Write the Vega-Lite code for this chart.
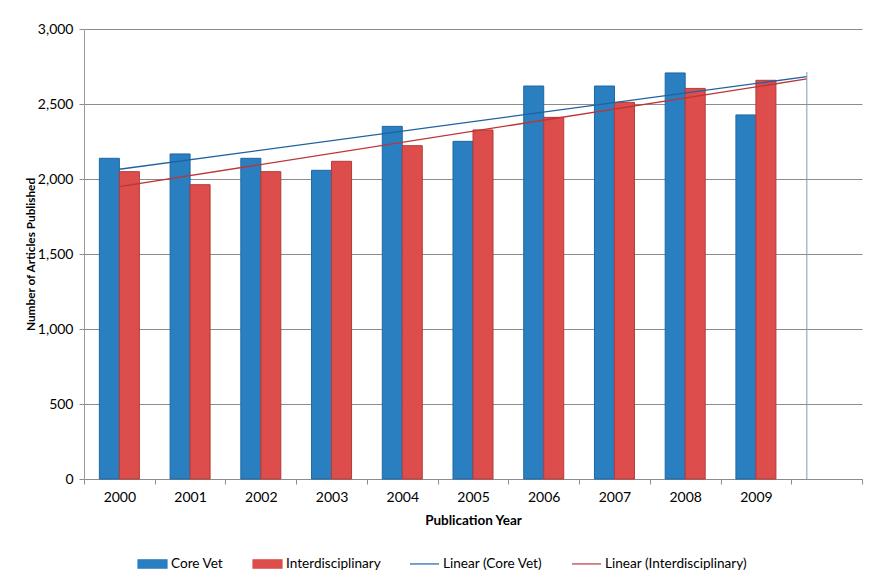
{
  "$schema": "https://vega.github.io/schema/vega-lite/v6.json",
  "autosize": {"type": "none"},
  "padding": {"left": 84, "top": 29, "right": 31, "bottom": 105},
  "width": 778,
  "height": 450,
  "background": "white",
  "config": {
    "font": "Lato",
    "view": {"stroke": null},
    "axis": {"labelFont": "Lato", "labelFontSize": 14, "labelColor": "#000000", "titleFont": "Lato", "titleFontSize": 12, "titleFontWeight": "bold", "titleColor": "#000000"}
  },
  "datasets": {
    "bars": [
      {"year": "2000", "series": "Core Vet", "value": 2138},
      {"year": "2000", "series": "Interdisciplinary", "value": 2049},
      {"year": "2001", "series": "Core Vet", "value": 2167},
      {"year": "2001", "series": "Interdisciplinary", "value": 1962},
      {"year": "2002", "series": "Core Vet", "value": 2138},
      {"year": "2002", "series": "Interdisciplinary", "value": 2049},
      {"year": "2003", "series": "Core Vet", "value": 2058},
      {"year": "2003", "series": "Interdisciplinary", "value": 2118},
      {"year": "2004", "series": "Core Vet", "value": 2351},
      {"year": "2004", "series": "Interdisciplinary", "value": 2222},
      {"year": "2005", "series": "Core Vet", "value": 2251},
      {"year": "2005", "series": "Interdisciplinary", "value": 2327},
      {"year": "2006", "series": "Core Vet", "value": 2620},
      {"year": "2006", "series": "Interdisciplinary", "value": 2411},
      {"year": "2007", "series": "Core Vet", "value": 2620},
      {"year": "2007", "series": "Interdisciplinary", "value": 2511},
      {"year": "2008", "series": "Core Vet", "value": 2707},
      {"year": "2008", "series": "Interdisciplinary", "value": 2604},
      {"year": "2009", "series": "Core Vet", "value": 2427},
      {"year": "2009", "series": "Interdisciplinary", "value": 2658}
    ],
    "trend": [
      {"series": "Linear (Core Vet)", "idx": 0, "value": 2065},
      {"series": "Linear (Core Vet)", "idx": 9.72, "value": 2682},
      {"series": "Linear (Interdisciplinary)", "idx": 0, "value": 1949},
      {"series": "Linear (Interdisciplinary)", "idx": 9.72, "value": 2667}
    ],
    "drop": [
      {"idx": 9.72, "value": 0, "value2": 2713}
    ]
  },
  "layer": [
    {
      "data": {"name": "bars"},
      "mark": {"type": "bar", "strokeWidth": 1},
      "encoding": {
        "x": {
          "field": "year", "type": "nominal",
          "scale": {"domain": ["2000","2001","2002","2003","2004","2005","2006","2007","2008","2009","2010"], "paddingInner": 0, "paddingOuter": 0},
          "axis": {
            "title": "Publication Year",
            "titleFontSize": 13.5,
            "labelExpr": "datum.value == '2010' ? '' : datum.label",
            "labelAngle": 0,
            "tickBand": "extent",
            "tickSize": 5,
            "tickColor": "#8c8c8c",
            "domainColor": "#8c8c8c",
            "labelPadding": 6,
            "titlePadding": 9,
            "grid": false
          }
        },
        "xOffset": {
          "field": "series", "type": "nominal",
          "scale": {"domain": ["Core Vet", "Interdisciplinary"], "paddingInner": 0, "paddingOuter": 0.768}
        },
        "y": {
          "field": "value", "type": "quantitative",
          "scale": {"domain": [0, 3000], "nice": false},
          "axis": {
            "title": "Number of Articles Published",
            "titleFontSize": 11.8,
            "values": [0, 500, 1000, 1500, 2000, 2500, 3000],
            "format": ",.0f",
            "grid": true,
            "gridColor": "#8c8c8c",
            "gridWidth": 1,
            "tickColor": "#8c8c8c",
            "domainColor": "#9a9a9a",
            "tickSize": 5,
            "labelPadding": 6,
            "titlePadding": 1
          }
        },
        "color": {
          "field": "series", "type": "nominal",
          "scale": {
            "domain": ["Core Vet", "Interdisciplinary", "Linear (Core Vet)", "Linear (Interdisciplinary)"],
            "range": ["#2a7fc1", "#dd4d4b", "#1f62a0", "#bd3537"]
          },
          "legend": {
            "orient": "none",
            "legendX": 53,
            "legendY": 519,
            "direction": "horizontal",
            "columns": 4,
            "title": null,
            "symbolSize": 841,
            "columnPadding": 26,
            "labelOffset": 3,
            "labelFont": "Lato",
            "labelFontSize": 13.6,
            "labelColor": "#000000",
            "encode": {
              "symbols": {
                "update": {
                  "shape": {"signal": "indexof(datum.value, 'Linear') === 0 ? 'M-1,0H1' : 'M-1,-0.29H1V0.29H-1Z'"},
                  "fill": {"signal": "indexof(datum.value, 'Linear') === 0 ? 'transparent' : scale('color', datum.value)"},
                  "stroke": {"signal": "indexof(datum.value, 'Linear') === 0 ? scale('color', datum.value) : (datum.value === 'Core Vet' ? '#1f67a3' : '#b53a38')"},
                  "strokeWidth": {"value": 1.2},
                  "opacity": {"value": 1}
                }
              }
            }
          }
        },
        "stroke": {
          "field": "series", "type": "nominal",
          "scale": {"domain": ["Core Vet", "Interdisciplinary"], "range": ["#1f67a3", "#b53a38"]},
          "legend": null
        }
      }
    },
    {
      "data": {"name": "trend"},
      "mark": {"type": "line", "strokeWidth": 1.3},
      "encoding": {
        "x": {"field": "idx", "type": "quantitative", "scale": {"domain": [-0.5, 10.5], "nice": false, "zero": false}, "axis": null},
        "y": {"field": "value", "type": "quantitative"},
        "color": {"field": "series", "type": "nominal"},
        "detail": {"field": "series"}
      }
    },
    {
      "data": {"name": "drop"},
      "mark": {"type": "rule", "color": "#7f9bb6", "strokeWidth": 1},
      "encoding": {
        "x": {"field": "idx", "type": "quantitative", "scale": {"domain": [-0.5, 10.5], "nice": false, "zero": false}, "axis": null},
        "y": {"field": "value", "type": "quantitative"},
        "y2": {"field": "value2"}
      }
    }
  ],
  "resolve": {"scale": {"x": "independent", "stroke": "independent"}}
}
